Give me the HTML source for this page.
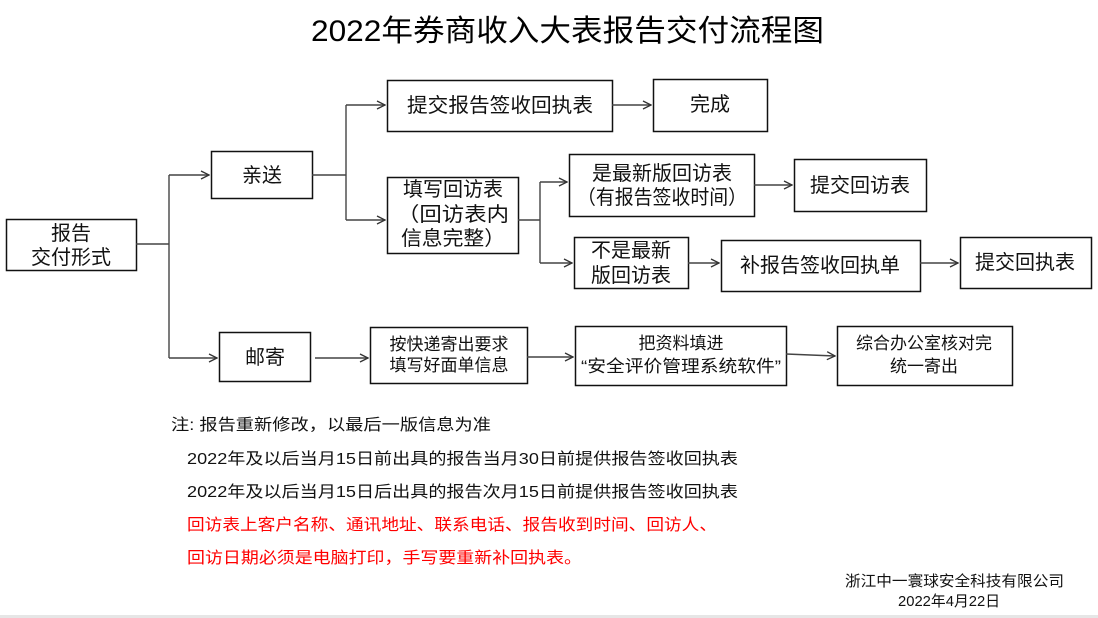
<!DOCTYPE html>
<html><head><meta charset="utf-8"><style>
html,body{margin:0;padding:0;background:#fff;}
svg{display:block;font-family:"Liberation Sans","Noto Sans CJK SC",sans-serif;}
</style></head><body>
<svg width="1098" height="618" viewBox="0 0 1098 618">
<defs><marker id="a" markerWidth="10" markerHeight="10" refX="9" refY="5" orient="auto" markerUnits="userSpaceOnUse"><path d="M1,1 L9,5 L1,9" fill="none" stroke="#333" stroke-width="1.3"/></marker></defs>
<rect x="0" y="615" width="1098" height="3" fill="#e6e6e6"/>
<text x="311" y="41" font-size="30" textLength="513" lengthAdjust="spacingAndGlyphs">2022年券商收入大表报告交付流程图</text>
<g fill="none" stroke="#111" stroke-width="1.5">
<rect x="6.5" y="219.5" width="130" height="51"/>
<rect x="211.5" y="151.5" width="101" height="47"/>
<rect x="219.5" y="332.5" width="91" height="49"/>
<rect x="387.5" y="80.5" width="225" height="51"/>
<rect x="653.5" y="79.5" width="114" height="52"/>
<rect x="387.5" y="177.5" width="131" height="76"/>
<rect x="569.5" y="154.5" width="185" height="62"/>
<rect x="794.5" y="159.5" width="132" height="52"/>
<rect x="574.5" y="237.5" width="114" height="51"/>
<rect x="721.5" y="240.5" width="199" height="51"/>
<rect x="960.5" y="237.5" width="131" height="51"/>
<rect x="370.5" y="327.5" width="157" height="56"/>
<rect x="575.5" y="326.5" width="211" height="59"/>
<rect x="837.5" y="326.5" width="175" height="59"/>
</g>
<g fill="none" stroke="#444" stroke-width="1.4">
<path d="M136,244 H169 M169,175 V358"/>
<path d="M169,175 H209" marker-end="url(#a)"/>
<path d="M169,358 H217" marker-end="url(#a)"/>
<path d="M312,175 H346 M346,105 V220"/>
<path d="M346,105 H385" marker-end="url(#a)"/>
<path d="M346,220 H385" marker-end="url(#a)"/>
<path d="M612,105 H651" marker-end="url(#a)"/>
<path d="M518,220 H540 M540,182 V263"/>
<path d="M540,182 H567" marker-end="url(#a)"/>
<path d="M540,263 H572" marker-end="url(#a)"/>
<path d="M754,185 H792" marker-end="url(#a)"/>
<path d="M688,263 H719" marker-end="url(#a)"/>
<path d="M920,263 H958" marker-end="url(#a)"/>
<path d="M315,358 H368" marker-end="url(#a)"/>
<path d="M527,357 H573" marker-end="url(#a)"/>
<path d="M786,354 L835,356" marker-end="url(#a)"/>
</g>
<g font-size="20" fill="#111" text-anchor="middle">
<text x="71" y="240">报告</text>
<text x="71" y="264">交付形式</text>
<text x="262" y="182">亲送</text>
<text x="265" y="364">邮寄</text>
<text x="500" y="112" textLength="186" lengthAdjust="spacingAndGlyphs">提交报告签收回执表</text>
<text x="710" y="111">完成</text>
<text x="453" y="196">填写回访表</text>
<text x="453" y="221" textLength="112" lengthAdjust="spacingAndGlyphs">（回访表内</text>
<text x="453" y="245" textLength="104" lengthAdjust="spacingAndGlyphs">信息完整）</text>
<text x="662" y="180">是最新版回访表</text>
<text x="662" y="204" textLength="170" lengthAdjust="spacingAndGlyphs">（有报告签收时间）</text>
<text x="860" y="192">提交回访表</text>
<text x="631" y="257">不是最新</text>
<text x="631" y="282">版回访表</text>
<text x="820" y="272">补报告签收回执单</text>
<text x="1025" y="269">提交回执表</text>
</g>
<g font-size="17" fill="#111" text-anchor="middle">
<text x="449" y="350">按快递寄出要求</text>
<text x="449" y="371">填写好面单信息</text>
<text x="681" y="349">把资料填进</text>
<text x="681" y="372" textLength="200" lengthAdjust="spacingAndGlyphs">“安全评价管理系统软件”</text>
<text x="924" y="349">综合办公室核对完</text>
<text x="924" y="372">统一寄出</text>
</g>
<g font-size="16">
<text x="171" y="430" fill="#111" textLength="320" lengthAdjust="spacingAndGlyphs">注: 报告重新修改，以最后一版信息为准</text>
<text x="187" y="464" fill="#111" textLength="551" lengthAdjust="spacingAndGlyphs">2022年及以后当月15日前出具的报告当月30日前提供报告签收回执表</text>
<text x="187" y="497" fill="#111" textLength="551" lengthAdjust="spacingAndGlyphs">2022年及以后当月15日后出具的报告次月15日前提供报告签收回执表</text>
<text x="187" y="530" fill="#ff0000" textLength="530" lengthAdjust="spacingAndGlyphs">回访表上客户名称、通讯地址、联系电话、报告收到时间、回访人、</text>
<text x="187" y="563" fill="#ff0000" textLength="395" lengthAdjust="spacingAndGlyphs">回访日期必须是电脑打印，手写要重新补回执表。</text>
</g>
<g font-size="15" fill="#111">
<text x="845" y="586" textLength="219" lengthAdjust="spacingAndGlyphs">浙江中一寰球安全科技有限公司</text>
<text x="898" y="606" textLength="102" lengthAdjust="spacingAndGlyphs">2022年4月22日</text>
</g>
</svg>
</body></html>
